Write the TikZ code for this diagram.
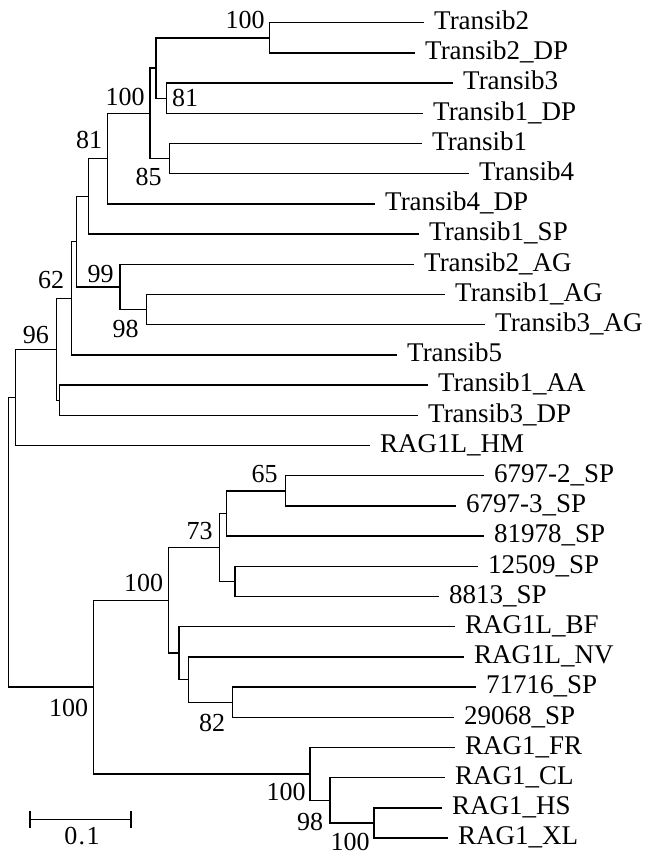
\documentclass[tikz,border=0pt]{standalone}
\usepackage{fontspec}
\setmainfont{Liberation Serif}
\newcommand{\treefont}{\fontsize{26}{30}\selectfont}
\newcommand{\taxonfont}{\fontsize{27}{31}\selectfont}
\begin{document}
\begin{tikzpicture}[x=1pt,y=-1pt,
  branch/.style={line width=1.4pt, line join=miter},
  tipname/.style={anchor=base west, inner sep=0pt, xshift=10pt, yshift=-6.8pt, font=\taxonfont},
  support/.style={inner sep=0pt, font=\treefont}]
\useasboundingbox (0,0) rectangle (649,855);

% leaf tips (end of each terminal branch)
\coordinate (t0)  at (424,22.7);
\coordinate (t1)  at (415,52.9);
\coordinate (t2)  at (453,83.1);
\coordinate (t3)  at (423,113.3);
\coordinate (t4)  at (422,143.5);
\coordinate (t5)  at (469,173.7);
\coordinate (t6)  at (375,203.9);
\coordinate (t7)  at (419,234.1);
\coordinate (t8)  at (414,264.3);
\coordinate (t9)  at (445,294.5);
\coordinate (t10) at (485,324.7);
\coordinate (t11) at (397,354.9);
\coordinate (t12) at (428,385.1);
\coordinate (t13) at (418,415.3);
\coordinate (t14) at (370,445.5);
\coordinate (t15) at (484,475.7);
\coordinate (t16) at (456,505.9);
\coordinate (t17) at (484,536.1);
\coordinate (t18) at (478,566.3);
\coordinate (t19) at (439,596.5);
\coordinate (t20) at (455,626.7);
\coordinate (t21) at (464,656.9);
\coordinate (t22) at (476,687.1);
\coordinate (t23) at (454,717.3);
\coordinate (t24) at (455,747.5);
\coordinate (t25) at (445,777.7);
\coordinate (t26) at (442,807.9);
\coordinate (t27) at (448,838.1);

% internal nodes
\coordinate (nA) at (269.3,37.8);
\coordinate (nB) at (166.7,98.2);
\coordinate (nC) at (156,68);
\coordinate (nD) at (169.3,158.6);
\coordinate (nE) at (150,113.3);
\coordinate (nF) at (107.7,158.6);
\coordinate (nG) at (88.3,196.4);
\coordinate (nH) at (146.7,309.6);
\coordinate (nI) at (120,287);
\coordinate (nJ) at (76.7,241.7);
\coordinate (nK) at (71.7,298.3);
\coordinate (nL) at (59.3,400.2);
\coordinate (nM) at (56.7,349.3);
\coordinate (nN) at (15.7,397.4);
\coordinate (nO) at (285.7,490.8);
\coordinate (nP) at (226.7,513.5);
\coordinate (nQ) at (235,581.4);
\coordinate (nR) at (219.3,547.4);
\coordinate (nS) at (232.3,702.2);
\coordinate (nT) at (188.3,679.5);
\coordinate (nU) at (179,653.1);
\coordinate (nV) at (168.3,600.3);
\coordinate (nW) at (374,823);
\coordinate (nX) at (330,800.4);
\coordinate (nY) at (310,773.9);
\coordinate (nZ) at (93.3,687.1);
\coordinate (root) at (8.3,542.2);

% branches
\foreach \p/\c in {nA/t0,nA/t1,nB/t2,nB/t3,nC/nA,nC/nB,nD/t4,nD/t5,
    nE/nC,nE/nD,nF/nE,nF/t6,nG/nF,nG/t7,nH/t9,nH/t10,nI/t8,nI/nH,
    nJ/nG,nJ/nI,nK/nJ,nK/t11,nL/t12,nL/t13,nM/nK,nM/nL,nN/nM,nN/t14,
    nO/t15,nO/t16,nP/nO,nP/t17,nQ/t18,nQ/t19,nR/nP,nR/nQ,
    nS/t22,nS/t23,nT/t21,nT/nS,nU/t20,nU/nT,nV/nR,nV/nU,
    nW/t26,nW/t27,nX/t25,nX/nW,nY/t24,nY/nX,nZ/nV,nZ/nY,
    root/nN,root/nZ}
  \draw[branch] (\p) |- (\c);

% taxon names
\node[tipname] (n0)  at (t0)  {Transib2};
\node[tipname] (n1)  at (t1)  {Transib2\_DP};
\node[tipname] (n2)  at (t2)  {Transib3};
\node[tipname] (n3)  at (t3)  {Transib1\_DP};
\node[tipname] (n4)  at (t4)  {Transib1};
\node[tipname] (n5)  at (t5)  {Transib4};
\node[tipname] (n6)  at (t6)  {Transib4\_DP};
\node[tipname] (n7)  at (t7)  {Transib1\_SP};
\node[tipname] (n8)  at (t8)  {Transib2\_AG};
\node[tipname] (n9)  at (t9)  {Transib1\_AG};
\node[tipname] (n10) at (t10) {Transib3\_AG};
\node[tipname] (n11) at (t11) {Transib5};
\node[tipname] (n12) at (t12) {Transib1\_AA};
\node[tipname] (n13) at (t13) {Transib3\_DP};
\node[tipname] (n14) at (t14) {RAG1L\_HM};
\node[tipname] (n15) at (t15) {6797-2\_SP};
\node[tipname] (n16) at (t16) {6797-3\_SP};
\node[tipname] (n17) at (t17) {81978\_SP};
\node[tipname] (n18) at (t18) {12509\_SP};
\node[tipname] (n19) at (t19) {8813\_SP};
\node[tipname] (n20) at (t20) {RAG1L\_BF};
\node[tipname] (n21) at (t21) {RAG1L\_NV};
\node[tipname] (n22) at (t22) {71716\_SP};
\node[tipname] (n23) at (t23) {29068\_SP};
\node[tipname] (n24) at (t24) {RAG1\_FR};
\node[tipname] (n25) at (t25) {RAG1\_CL};
\node[tipname] (n26) at (t26) {RAG1\_HS};
\node[tipname] (n27) at (t27) {RAG1\_XL};

% bootstrap support values
\node[support] (bA) at (245,20.3)   {100};
\node[support] (bB) at (185,97.7)   {81};
\node[support] (bE) at (125,97.2)   {100};
\node[support] (bD) at (148.5,177)  {85};
\node[support] (bF) at (89,140)     {81};
\node[support] (bI) at (100.5,274.2){99};
\node[support] (bH) at (125.5,329.2){98};
\node[support] (bK) at (51,280.5)   {62};
\node[support] (bM) at (36,335)     {96};
\node[support] (bO) at (264.5,474.3){65};
\node[support] (bR) at (199.5,531.3){73};
\node[support] (bV) at (143.5,582.5){100};
\node[support] (bZ) at (68.5,707.8) {100};
\node[support] (bS) at (212,723.3)  {82};
\node[support] (bY) at (286,791.7)  {100};
\node[support] (bX) at (310,821.7)  {98};
\node[support] (bW) at (350,841.7)  {100};

% scale bar
\coordinate (s0) at (30,819.3);
\coordinate (s1) at (131,819.3);
\draw[branch] (s0) -- (s1);
\draw[branch] ([yshift=8.7pt]s0) -- ([yshift=-8.7pt]s0);
\draw[branch] ([yshift=8.7pt]s1) -- ([yshift=-8.7pt]s1);
\node[support] (sl) at (82,836) {0\kern1.5pt.\kern1.5pt1};
\end{tikzpicture}
\end{document}
